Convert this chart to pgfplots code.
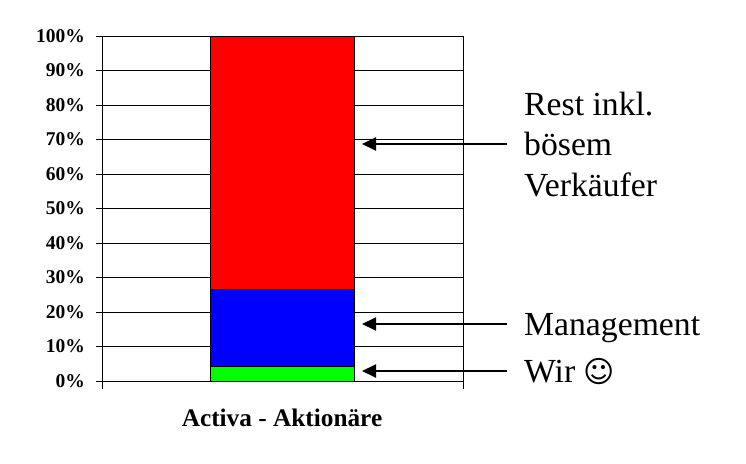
\documentclass[border=0pt]{standalone}
\usepackage{pgfplots}
\pgfplotsset{compat=1.18}
\usepackage{fontspec}
\usetikzlibrary{arrows.meta}
\setmainfont{Liberation Serif}
\newfontfamily\sym{DejaVu Sans}
\begin{document}
\begin{tikzpicture}[x=1pt,y=1pt]
\path[use as bounding box] (0,0) rectangle (746,463);
\begin{axis}[
  at={(102pt,82pt)},anchor=south west,
  width=361pt,height=345pt,scale only axis,
  xmin=0,xmax=1,ymin=0,ymax=100,
  ybar stacked,bar width=144pt,
  ytick={0,10,...,100},
  yticklabel={\pgfmathprintnumber{\tick}\%},
  yticklabel style={font=\bfseries\fontsize{19.5}{19.5}\selectfont,inner sep=0pt,xshift=-11pt},
  /pgf/number format/assume math mode=true,
  xtick={0,1},xticklabels={},
  ymajorgrids,
  grid style={black,line width=0.9pt},
  axis line style={black,line width=0.9pt},
  tick style={black,line width=0.9pt},
  tick align=outside,
  major tick length=6pt,
  x tick style={black,line width=0.9pt},
  xtick style={/pgfplots/major tick length=8pt},
  axis x line*=bottom, axis y line*=left,
  clip=false,
]
\addplot[fill={rgb,255:red,0;green,255;blue,0},draw=black,line width=0.7pt] coordinates {(0.5,4.3)};
\addplot[fill={rgb,255:red,0;green,0;blue,255},draw=black,line width=0.7pt] coordinates {(0.5,22.2)};
\addplot[fill={rgb,255:red,255;green,0;blue,0},draw=black,line width=0.7pt] coordinates {(0.5,73.5)};
\draw[black,line width=0.9pt] (axis cs:0,100)--(axis cs:1,100)--(axis cs:1,0);
\end{axis}
\node[font=\bfseries\fontsize{25.3}{25.3}\selectfont] at (282,45) {Activa - Aktionäre};
\node[anchor=base west,inner sep=0pt,font=\fontsize{33.7}{33.7}\selectfont] at (524,347) {Rest inkl.};
\node[anchor=base west,inner sep=0pt,font=\fontsize{33.7}{33.7}\selectfont] at (524,307) {bösem};
\node[anchor=base west,inner sep=0pt,font=\fontsize{33.7}{33.7}\selectfont] at (524,266) {Verkäufer};
\node[anchor=base west,inner sep=0pt,font=\fontsize{33.7}{33.7}\selectfont] at (524,127) {Management};
\node[anchor=base west,inner sep=0pt,font=\fontsize{33.7}{33.7}\selectfont] at (524,81) {Wir {\sym\fontsize{30}{30}\selectfont ☺}};
\draw[-{Triangle[length=14pt,width=13pt]},line width=2pt] (507,319)--(362,319);
\draw[-{Triangle[length=14pt,width=13pt]},line width=2pt] (507,139)--(362,139);
\draw[-{Triangle[length=14pt,width=13pt]},line width=2pt] (507,92)--(362,92);
\end{tikzpicture}
\end{document}
